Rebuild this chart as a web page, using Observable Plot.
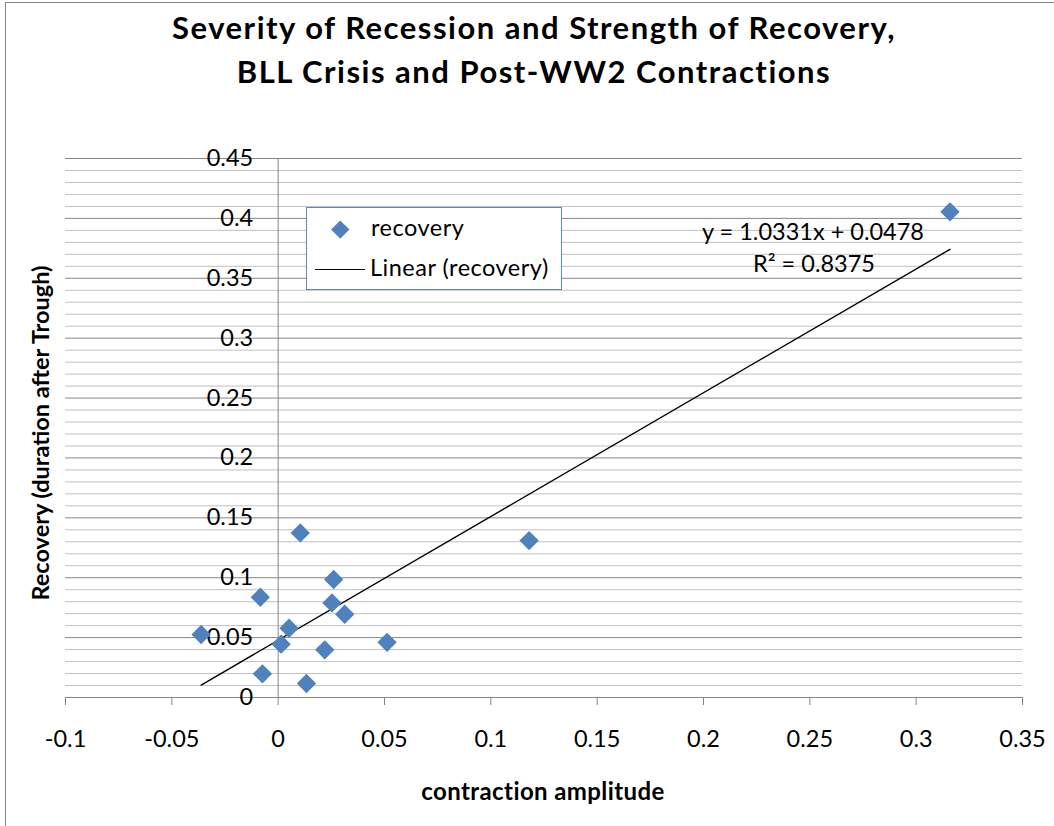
<!DOCTYPE html>
<html>
<head>
<meta charset="utf-8">
<script src="https://cdn.jsdelivr.net/npm/d3@7"></script>
<script src="https://cdn.jsdelivr.net/npm/@observablehq/plot@0.6"></script>
<style>
  html, body { margin: 0; padding: 0; background: #fff; }
  #wrap { position: relative; width: 1054px; height: 826px; overflow: hidden; font-family: Lato, "Liberation Sans", sans-serif; color: #000; }
  #wrap svg.plot { position: absolute; left: 0; top: 0; }
  .abs { position: absolute; white-space: nowrap; }
  #border { position: absolute; left: 5px; top: 2px; width: 1100px; height: 900px; border-top: 1.5px solid #868686; border-left: 1.5px solid #868686; box-sizing: border-box; }
  #title { left: 0; width: 1068px; top: 5px; text-align: center; font-weight: 700; font-size: 31px; line-height: 44px; letter-spacing: 1.5px; }
  #ytitle { left: 41px; top: 433px; transform: translate(-50%, -50%) rotate(-90deg); font-weight: 700; font-size: 23.5px; line-height: 1; }
  #xtitle { left: 543px; top: 779px; transform: translateX(-50%); font-weight: 700; font-size: 24px; line-height: 1; letter-spacing: 0.4px; }
  #legend { left: 306px; top: 207px; width: 256px; height: 83px; border: 1px solid #5b87c2; background: #fff; box-sizing: border-box; }
  .lg { font-size: 23.5px; line-height: 1; letter-spacing: 0.5px; }
  .eq { font-size: 23.5px; line-height: 1; transform: translateX(-50%); }
</style>
</head>
<body>
<div id="wrap">
  <div id="border"></div>
  <div id="chart"></div>
  <div id="title" class="abs">Severity of Recession and Strength of Recovery,<br>BLL Crisis and Post-WW2 Contractions</div>
  <div id="ytitle" class="abs">Recovery (duration after Trough)</div>
  <div id="xtitle" class="abs">contraction amplitude</div>
  <div id="legend" class="abs">
    <div class="abs" style="left:27px;top:15px;width:12.5px;height:12.5px;background:#4f81bd;transform:rotate(45deg);"></div>
    <div class="abs lg" style="left:64px;top:8px;">recovery</div>
    <div class="abs" style="left:8px;top:61px;width:50px;height:0;border-top:1.4px solid #000;"></div>
    <div class="abs lg" style="left:63px;top:48px;">Linear (recovery)</div>
  </div>
  <div id="eq1" class="abs eq" style="left:813px;top:220px;"></div>
  <div id="eq2" class="abs eq" style="left:814px;top:252px;"></div>
</div>
<script>
// Data
const contraction = [0.3159, 0.1180, 0.0512, 0.0104, 0.0261, 0.0253, 0.0313, -0.0084, -0.0362, 0.0051, 0.0014, 0.0219, -0.0074, 0.0133];
const recovery    = [0.4055, 0.1310, 0.0461, 0.1374, 0.0985, 0.0790, 0.0695, 0.0837, 0.0526, 0.0578, 0.0445, 0.0398, 0.0198, 0.0117];

// Trendline shown in the chart
const trendSlope = 1.0331;
const trendIntercept = 0.0478;
const trendR2 = 0.8375;

// Axis ticks and labels
const xTicks = [-0.1, -0.05, 0, 0.05, 0.1, 0.15, 0.2, 0.25, 0.3, 0.35];
const xTickLabels = ["-0.1", "-0.05", "0", "0.05", "0.1", "0.15", "0.2", "0.25", "0.3", "0.35"];
const yTicks = [0, 0.05, 0.1, 0.15, 0.2, 0.25, 0.3, 0.35, 0.4, 0.45];
const yTickLabels = ["0", "0.05", "0.1", "0.15", "0.2", "0.25", "0.3", "0.35", "0.4", "0.45"];
const yMinor = d3.range(1, 45).filter(i => i % 5 !== 0).map(i => i / 100);

const points = contraction.map((x, i) => ({x, y: recovery[i]}));
const xMin = d3.min(contraction), xMax = d3.max(contraction);
const trend = [xMin, xMax].map(x => ({x, y: trendSlope * x + trendIntercept}));

const gridMajor = "#868686", gridMinor = "#c0c0c0";

const chart = Plot.plot({
  width: 1054,
  height: 826,
  marginLeft: 65,
  marginRight: 32,
  marginTop: 158,
  marginBottom: 129,
  x: {domain: [-0.1, 0.35]},
  y: {domain: [0, 0.45]},
  style: {fontFamily: "Lato, 'Liberation Sans', sans-serif", background: "transparent", color: "#000"},
  marks: [
    Plot.ruleY(yMinor, {stroke: gridMinor, strokeWidth: 1}),
    Plot.ruleY(yTicks, {stroke: gridMajor, strokeWidth: 1}),
    Plot.ruleX([0], {stroke: gridMajor, strokeWidth: 1}),
    Plot.axisX(xTicks, {
      anchor: "bottom",
      tickSize: 8,
      tickPadding: 25,
      stroke: gridMajor,
      fontSize: 23.5,
      tickFormat: (d, i) => xTickLabels[i],
      label: null
    }),
    Plot.axisY({ticks: [], label: null}),
    Plot.text(yTicks, {x: 0, y: d => d, text: yTickLabels, textAnchor: "end", dx: -25, fontSize: 23.5, fill: "#000"}),
    Plot.line(trend, {x: "x", y: "y", stroke: "#000", strokeWidth: 1.4}),
    Plot.dot(points, {x: "x", y: "y", symbol: "diamond2", r: 8.7, fill: "#4f81bd", stroke: "none"})
  ]
});
chart.classList.add("plot");
document.getElementById("chart").appendChild(chart);

document.getElementById("eq1").textContent = `y = ${trendSlope}x + ${trendIntercept}`;
document.getElementById("eq2").textContent = `R² = ${trendR2}`;
</script>
</body>
</html>
